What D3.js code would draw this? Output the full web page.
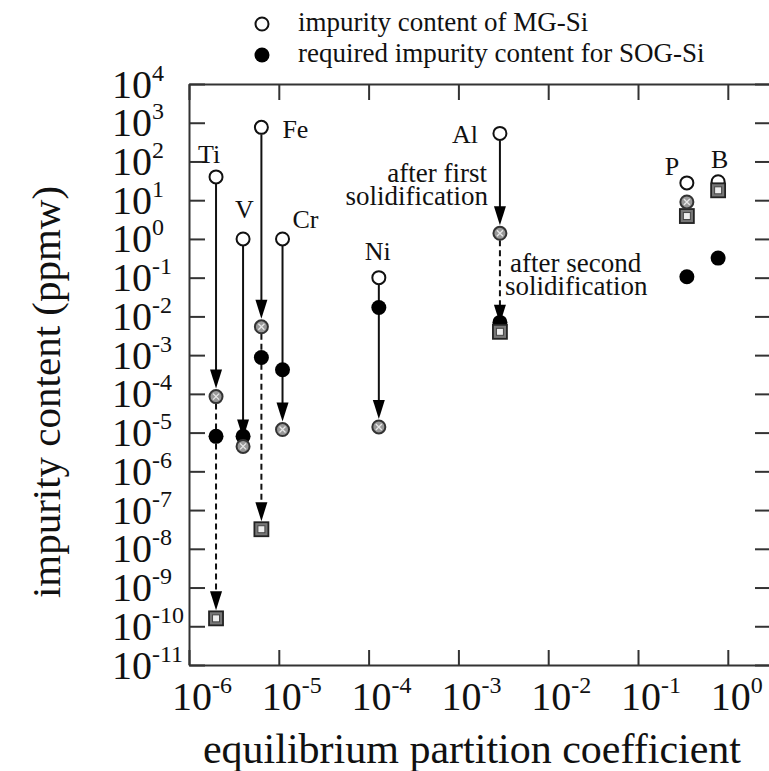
<!DOCTYPE html>
<html>
<head>
<meta charset="utf-8">
<script src="https://cdn.jsdelivr.net/npm/d3@7"></script>
<style>
  body { margin: 0; background: #fff; }
  svg { display: block; font-family: "Liberation Serif", "Times New Roman", serif; }
</style>
</head>
<body>
<div id="chart"></div>
<script>
// data
var elements    = ["Ti", "V", "Fe", "Cr", "Ni", "Al", "P", "B"];
var kValues     = [2e-6, 4e-6, 6.4e-6, 1.1e-5, 1.3e-4, 2.9e-3, 0.35, 0.78];
var mgSi        = [40, 1, 760, 1, 0.1, 530, 28, 30];
var afterFirst  = [8.5e-5, 4.4e-6, 5.4e-3, 1.2e-5, 1.4e-5, 1.4, 9, null];
var afterSecond = [1.6e-10, null, 3.2e-8, null, null, 4e-3, 3.9, 18];
var sogSi       = [8e-6, 8e-6, 8.7e-4, 4.2e-4, 0.017, 7e-3, 0.106, 0.32];
var xExponents  = [-6, -5, -4, -3, -2, -1, 0];
var yExponents  = [4, 3, 2, 1, 0, -1, -2, -3, -4, -5, -6, -7, -8, -9, -10, -11];
var legendLabels = ["impurity content of MG-Si", "required impurity content for SOG-Si"];
var notes = [["after first", "solidification"], ["after second", "solidification"]];

// label offsets from the MG-Si point (layout only)
var labelOffset = {
  Ti: [-18, -14], V: [-8, -21], Fe: [21, 11], Cr: [10, -11],
  Ni: [-14, -18], Al: [-48, 10], P: [-22, -8], B: [-7, -14]
};

var W = 769, H = 771;
var margin = { top: 84, right: -1, bottom: 106, left: 189 };
var width = W - margin.left - margin.right,
    height = H - margin.top - margin.bottom;

var x = d3.scaleLog().domain([1e-6, 2.95]).range([0, width]);
var y = d3.scaleLog().domain([1e-11, 1e4]).range([height, 0]);

var svg = d3.select("#chart").append("svg")
  .attr("width", W).attr("height", H);

var g = svg.append("g")
  .attr("transform", "translate(" + margin.left + "," + margin.top + ")");

var ink = "#333";
var xTickVals = xExponents.map(function (e) { return Math.pow(10, e); });
var yTickVals = yExponents.map(function (e) { return Math.pow(10, e); });

// axes with inward ticks, no labels (labels are drawn below with superscripts)
function styleAxis(sel) {
  sel.selectAll("path").attr("stroke", ink).attr("stroke-width", 2);
  sel.selectAll("line").attr("stroke", ink).attr("stroke-width", 2);
  sel.selectAll("text").remove();
}
g.append("g").attr("transform", "translate(0," + height + ")")
  .call(d3.axisBottom(x).tickValues(xTickVals).tickSize(-15).tickSizeOuter(0).tickFormat(""))
  .call(styleAxis);
g.append("g")
  .call(d3.axisTop(x).tickValues(xTickVals).tickSize(-16).tickSizeOuter(0).tickFormat(""))
  .call(styleAxis);
g.append("g")
  .call(d3.axisLeft(y).tickValues(yTickVals).tickSize(-16).tickSizeOuter(0).tickFormat(""))
  .call(styleAxis);
g.append("g").attr("transform", "translate(" + width + ",0)")
  .call(d3.axisRight(y).tickValues(yTickVals).tickSize(-15).tickSizeOuter(0).tickFormat(""))
  .call(styleAxis);

// tick labels 10^n
function powLabel(sel, e) {
  sel.append("tspan").attr("font-size", 40).text("10");
  sel.append("tspan").attr("font-size", 24).attr("dy", -17).text(String(e));
}
xExponents.forEach(function (e) {
  svg.append("text")
    .attr("x", margin.left + x(Math.pow(10, e)) - 17)
    .attr("y", 710)
    .attr("fill", "#111")
    .call(powLabel, e);
});
yExponents.forEach(function (e) {
  svg.append("text")
    .attr("x", 112)
    .attr("y", margin.top + y(Math.pow(10, e)) + 13.5)
    .attr("fill", "#111")
    .call(powLabel, e);
});

// axis titles
svg.append("text")
  .attr("x", 472).attr("y", 763)
  .attr("text-anchor", "middle")
  .attr("font-size", 42).attr("fill", "#111")
  .text("equilibrium partition coefficient");
svg.append("text")
  .attr("transform", "translate(60,392) rotate(-90)")
  .attr("text-anchor", "middle")
  .attr("font-size", 41).attr("fill", "#111")
  .text("impurity content (ppmw)");

// rows for the marks
var rows = elements.map(function (name, i) {
  return { name: name, k: kValues[i], mg: mgSi[i], first: afterFirst[i],
           second: afterSecond[i], sog: sogSi[i] };
});

var R = 7;
var arrowsLayer = g.append("g");
var heads = [];

function arrow(xp, from, to, dashed) {
  var y0 = y(from) + R, y1 = y(to) - R - 1;
  if (y1 - y0 < 20) return;
  arrowsLayer.append("line")
    .attr("x1", xp).attr("x2", xp)
    .attr("y1", y0).attr("y2", y1 - 14)
    .attr("stroke", "#111").attr("stroke-width", 2)
    .attr("stroke-dasharray", dashed ? "6,4" : null);
  heads.push([xp, y1]);
}

rows.forEach(function (d) {
  var xp = x(d.k);
  if (d.first != null) arrow(xp, d.mg, d.first, false);
  if (d.first != null && d.second != null) arrow(xp, d.first, d.second, true);
});

// required SOG-Si (filled)
g.selectAll(".sog").data(rows).enter().append("circle")
  .attr("cx", function (d) { return x(d.k); })
  .attr("cy", function (d) { return y(d.sog); })
  .attr("r", 7.5).attr("fill", "#000");

// MG-Si (open)
g.selectAll(".mg").data(rows).enter().append("circle")
  .attr("cx", function (d) { return x(d.k); })
  .attr("cy", function (d) { return y(d.mg); })
  .attr("r", 6.5).attr("fill", "#fff")
  .attr("stroke", "#111").attr("stroke-width", 2);

// after second solidification (square)
var sq = g.selectAll(".sq").data(rows.filter(function (d) { return d.second != null; }))
  .enter().append("g")
  .attr("transform", function (d) { return "translate(" + x(d.k) + "," + y(d.second) + ")"; });
sq.append("rect").attr("x", -7).attr("y", -7).attr("width", 14).attr("height", 14)
  .attr("fill", "#777").attr("stroke", "#222").attr("stroke-width", 1.8);
sq.append("rect").attr("x", -3.5).attr("y", -3.5).attr("width", 7).attr("height", 7)
  .attr("fill", "#eee").attr("stroke", "#444").attr("stroke-width", 1);

// after first solidification (crossed circle)
var cc = g.selectAll(".cc").data(rows.filter(function (d) { return d.first != null; }))
  .enter().append("g")
  .attr("transform", function (d) { return "translate(" + x(d.k) + "," + y(d.first) + ")"; });
cc.append("circle").attr("r", 6.5)
  .attr("fill", "#999").attr("stroke", "#333").attr("stroke-width", 2);
cc.append("path").attr("d", "M-3,-3L3,3M-3,3L3,-3")
  .attr("stroke", "#e8e8e8").attr("stroke-width", 1.3);

// arrow heads
g.selectAll(".head").data(heads).enter().append("path")
  .attr("d", function (p) {
    return "M" + (p[0] - 6) + "," + (p[1] - 19) + "L" + (p[0] + 6) + "," + (p[1] - 19) +
           "L" + p[0] + "," + p[1] + "Z";
  })
  .attr("fill", "#000");

// element labels
g.selectAll(".lab").data(rows).enter().append("text")
  .attr("x", function (d) { return x(d.k) + labelOffset[d.name][0]; })
  .attr("y", function (d) { return y(d.mg) + labelOffset[d.name][1]; })
  .attr("font-size", 26).attr("fill", "#111")
  .text(function (d) { return d.name; });

// annotations
var n1 = svg.append("text").attr("text-anchor", "end").attr("font-size", 27).attr("fill", "#111");
n1.append("tspan").attr("x", 487).attr("y", 182).text(notes[0][0]);
n1.append("tspan").attr("x", 488).attr("y", 205).text(notes[0][1]);
var n2 = svg.append("text").attr("font-size", 27).attr("fill", "#111");
n2.append("tspan").attr("x", 510).attr("y", 272).text(notes[1][0]);
n2.append("tspan").attr("x", 505).attr("y", 295).text(notes[1][1]);

// legend
var leg = svg.append("g");
legendLabels.forEach(function (t, i) {
  var cy = 24 + i * 31;
  leg.append("circle").attr("cx", 262).attr("cy", cy)
    .attr("r", i === 0 ? 6.5 : 7.5)
    .attr("fill", i === 0 ? "#fff" : "#000")
    .attr("stroke", "#111").attr("stroke-width", i === 0 ? 2 : 0);
  leg.append("text").attr("x", 298).attr("y", cy + 7)
    .attr("font-size", 27).attr("fill", "#111").text(t);
});
</script>
</body>
</html>
